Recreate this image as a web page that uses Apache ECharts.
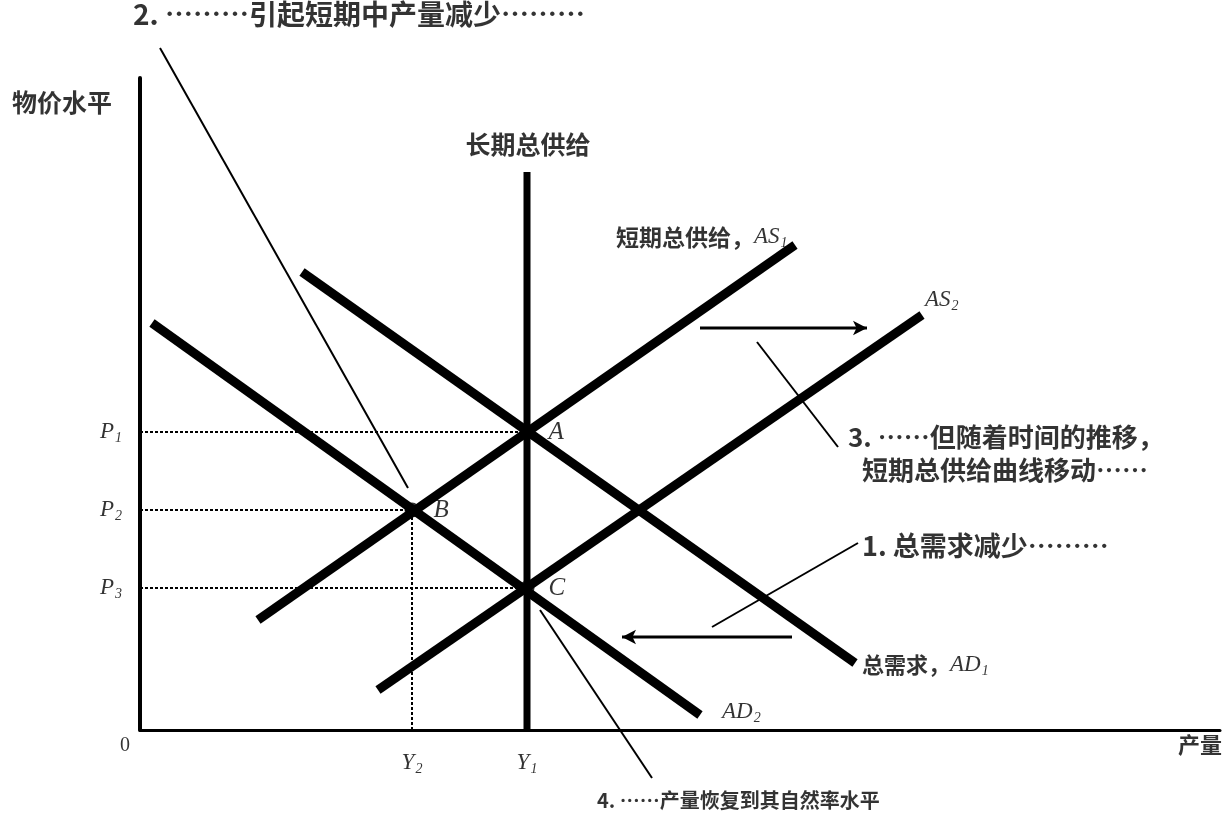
<!DOCTYPE html>
<html>
<head>
<meta charset="utf-8">
<script src="https://cdn.jsdelivr.net/npm/echarts@6/dist/echarts.min.js"></script>
<style>
  html, body { margin: 0; padding: 0; background: #fff; }
  #chart { width: 1224px; height: 815px; }
</style>
</head>
<body>
<div id="chart"></div>
<script>
// units: output on x, price level on y (arbitrary scale, 10px per unit)
const outputNames = ['Y2', 'Y1']
const outputLevels = [27.2, 38.7]
const priceNames = ['P1', 'P2', 'P3']
const priceLevels = [29.8, 22.0, 14.2]

const lras = [[38.7, 0], [38.7, 55.8]]
const as1 = [[11.8, 11.0], [65.5, 48.5]]
const as2 = [[23.8, 4.0], [78.2, 41.5]]
const ad1 = [[16.2, 45.8], [71.5, 6.7]]
const ad2 = [[1.2, 40.7], [56.0, 1.5]]

const pointNames = ['A', 'B', 'C']
const pointXY = [[38.7, 29.8], [27.2, 22.0], [38.7, 14.2]]

// AS shifts right, AD shifts left
const shiftArrows = [
  [[56.0, 40.2], [72.7, 40.2]],
  [[65.2, 9.3], [48.2, 9.3]],
]
// leader lines from the numbered notes
const pointers = [
  [[2.0, 68.2], [26.8, 24.2]],
  [[61.7, 38.8], [69.8, 28.3]],
  [[57.2, 10.3], [71.8, 18.7]],
  [[40.0, 12.0], [51.2, -4.8]],
]
const noteText = [
  '2. ………引起短期中产量减少………',
  '3. ……但随着时间的推移，',
  '短期总供给曲线移动……',
  '1. 总需求减少………',
  '4. ……产量恢复到其自然率水平',
]
const notePos = [[-0.7, 71.6], [70.8, 29.3], [72.2, 26.0], [72.2, 18.4], [45.7, -7.0]]
const noteSize = [28, 26, 26, 27, 20]

const curveText = ['长期总供给', '短期总供给，{i|AS}{s|1}', '{i|AS}{s|2}', '总需求，{i|AD}{s|1}', '{i|AD}{s|2}']
const curveTextPos = [[38.8, 58.6], [47.6, 49.3], [78.5, 43.0], [72.2, 6.5], [58.2, 1.8]]

const axisText = ['物价水平', '产量']
const axisTextPos = [[-12.8, 62.8], [103.8, -1.5]]

const rich = {
  i: { fontFamily: 'Liberation Serif', fontStyle: 'italic', fontWeight: 'normal', fontSize: 23, color: '#000' },
  s: { fontFamily: 'Liberation Serif', fontStyle: 'italic', fontWeight: 'normal', fontSize: 14, color: '#000', padding: [12, 0, 0, 1] },
  n: { fontFamily: 'Liberation Serif', fontWeight: 'normal', fontSize: 20, color: '#000' },
}
const sub = s => '{i|' + s[0] + '}{s|' + s.slice(1) + '}'

function seg(name, data, width, type) {
  return {
    name, type: 'line', data, symbol: 'none', silent: true, clip: false,
    lineStyle: { color: '#000', width, type: type || 'solid', cap: 'butt' },
  }
}

function textSeries(pos, texts, style, position) {
  return {
    type: 'scatter', symbolSize: 0, silent: true, clip: false,
    data: pos.map((p, i) => ({
      value: p,
      label: {
        show: true, position: Array.isArray(position) ? position[i] : position, distance: 0,
        formatter: texts[i], rich, color: '#000',
        ...style,
        fontSize: Array.isArray(style.fontSize) ? style.fontSize[i] : style.fontSize,
      },
    })),
  }
}

const dashGuides = [
  [[0, priceLevels[0]], [pointXY[0][0], priceLevels[0]]],
  [[0, priceLevels[1]], [pointXY[1][0], priceLevels[1]]],
  [[0, priceLevels[2]], [pointXY[2][0], priceLevels[2]]],
  [[outputLevels[0], 0], [outputLevels[0], priceLevels[1]]],
]

const series = [
  ...dashGuides.map((d, i) => seg('guide' + i, d, 2, [3, 2])),
  seg('LRAS', lras, 7),
  seg('AS1', as1, 9),
  seg('AS2', as2, 9),
  seg('AD1', ad1, 9),
  seg('AD2', ad2, 9),
  ...pointers.map((d, i) => seg('ptr' + i, d, 2)),
  ...shiftArrows.map((d, i) => ({
    type: 'line', silent: true, clip: false,
    lineStyle: { color: '#000', width: 3 },
    itemStyle: { color: '#000' },
    data: [
      { value: d[0], symbol: 'none' },
      { value: d[1], symbol: 'arrow', symbolSize: [11, 14], symbolRotate: d[1][0] > d[0][0] ? -90 : 90 },
    ],
  })),
  {
    type: 'scatter', silent: true, symbolSize: 15,
    itemStyle: { color: '#000' },
    data: pointXY.map((p, i) => ({
      value: p,
      label: {
        show: true, position: 'right', distance: 14,
        formatter: pointNames[i],
        fontFamily: 'Liberation Serif', fontStyle: 'italic', fontSize: 25, color: '#000',
      },
    })),
  },
  textSeries(notePos, noteText, { fontFamily: 'Noto Sans CJK SC', fontWeight: 'bold', fontSize: noteSize }, 'right'),
  textSeries(curveTextPos, curveText, { fontFamily: 'Noto Sans CJK SC', fontWeight: 'bold', fontSize: [25, 23, 23, 22, 23] },
    ['inside', 'right', 'right', 'right', 'right']),
  textSeries(axisTextPos, axisText, { fontFamily: 'Noto Sans CJK SC', fontWeight: 'bold', fontSize: [25, 22] }, 'right'),
  textSeries([[-2.0, -1.6]], ['{n|0}'], {}, 'right'),
  textSeries(priceLevels.map(v => [-1.8, v]), priceNames.map(sub), {}, 'left'),
  textSeries(outputLevels.map(v => [v, -2.0]), outputNames.map(sub), { verticalAlign: 'top' }, 'inside'),
]

const chart = echarts.init(document.getElementById('chart'), null, { renderer: 'canvas' })
chart.setOption({
  backgroundColor: '#fff',
  animation: false,
  grid: { left: 140, right: 4, top: 78, bottom: 85 },
  xAxis: {
    type: 'value', min: 0, max: 108,
    axisLine: { show: true, onZero: false, lineStyle: { color: '#000', width: 3 } },
    axisTick: { show: false }, axisLabel: { show: false }, splitLine: { show: false },
  },
  yAxis: {
    type: 'value', min: 0, max: 65.2,
    axisLine: { show: true, onZero: false, lineStyle: { color: '#000', width: 4 } },
    axisTick: { show: false }, axisLabel: { show: false }, splitLine: { show: false },
  },
  series,
})
</script>
</body>
</html>
